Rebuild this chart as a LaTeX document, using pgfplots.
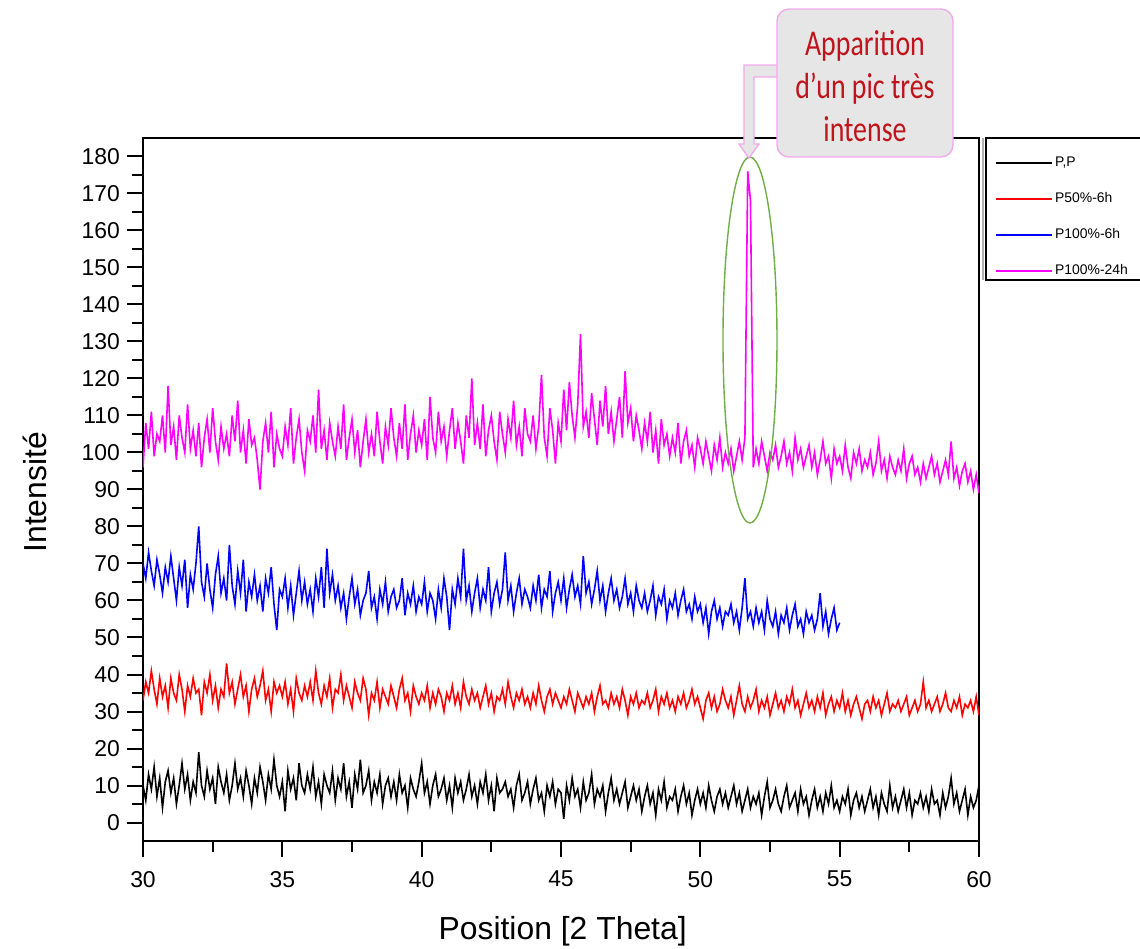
\documentclass[border=0pt]{standalone}
\usepackage{fontspec}
\setmainfont{Liberation Sans}
\newfontfamily\calibri{Carlito}
\usepackage{pgfplots}
\usepackage{pgfplotstable}
\pgfplotsset{compat=1.18}
\definecolor{calloutred}{RGB}{192,20,28}
\definecolor{calloutfill}{RGB}{230,230,230}
\definecolor{calloutpink}{RGB}{240,170,235}
\definecolor{ellgreen}{RGB}{112,173,71}
\definecolor{puremagenta}{RGB}{255,0,255}
\definecolor{purered}{RGB}{255,0,0}
\definecolor{pureblue}{RGB}{0,0,255}

% P,P  (x = 30.0 ... 60.0, step 0.1)
\pgfplotstableread[header=false,row sep=\\]{
10\\6\\13\\9\\15\\7\\12\\4\\11\\14\\
8\\12\\5\\10\\16\\9\\13\\6\\11\\8\\
19\\10\\7\\14\\9\\12\\5\\15\\11\\8\\
13\\6\\10\\16\\9\\12\\7\\14\\10\\5\\
12\\8\\15\\11\\6\\13\\9\\17\\10\\7\\
11\\3\\14\\9\\12\\6\\16\\10\\8\\13\\
9\\15\\7\\11\\5\\13\\10\\8\\14\\6\\
12\\9\\16\\7\\11\\4\\13\\9\\17\\8\\
10\\14\\6\\11\\8\\13\\5\\10\\12\\7\\
11\\6\\13\\8\\10\\4\\12\\9\\7\\11\\
16\\8\\11\\5\\10\\13\\7\\9\\12\\6\\
10\\4\\12\\8\\11\\6\\9\\13\\7\\10\\
5\\11\\8\\13\\6\\10\\3\\12\\8\\9\\
11\\7\\9\\4\\10\\13\\6\\8\\11\\5\\
9\\12\\6\\8\\3\\10\\7\\11\\5\\9\\
8\\1\\10\\6\\12\\7\\9\\4\\11\\6\\
8\\13\\5\\9\\7\\10\\3\\8\\12\\6\\
9\\5\\8\\11\\4\\7\\10\\6\\9\\3\\
7\\10\\5\\8\\2\\9\\6\\11\\4\\7\\
6\\9\\3\\7\\10\\5\\8\\2\\6\\9\\
5\\8\\4\\10\\6\\3\\7\\9\\5\\8\\
4\\7\\10\\5\\8\\3\\6\\9\\4\\7\\
5\\8\\2\\7\\11\\4\\6\\9\\5\\3\\
7\\10\\4\\6\\8\\3\\9\\5\\7\\2\\
6\\9\\4\\7\\3\\8\\5\\10\\4\\6\\
3\\7\\5\\9\\2\\6\\8\\4\\7\\3\\
6\\9\\4\\7\\2\\8\\5\\3\\10\\4\\
7\\3\\6\\9\\4\\8\\2\\6\\5\\8\\
4\\7\\3\\9\\5\\6\\2\\8\\4\\7\\
12\\5\\8\\3\\6\\9\\2\\7\\4\\6\\
10\\
}\tblPP

% P50%-6h
\pgfplotstableread[header=false,row sep=\\]{
33\\38\\35\\41\\36\\32\\39\\34\\37\\31\\
39\\35\\33\\40\\36\\30\\37\\34\\39\\35\\
36\\29\\38\\35\\40\\33\\37\\31\\36\\34\\
43\\35\\38\\32\\36\\40\\34\\37\\30\\36\\
39\\34\\37\\41\\33\\36\\30\\38\\35\\37\\
34\\38\\32\\36\\30\\39\\35\\33\\37\\34\\
38\\33\\41\\35\\32\\37\\34\\39\\31\\36\\
35\\40\\33\\37\\34\\31\\38\\35\\33\\39\\
36\\29\\35\\33\\38\\31\\36\\34\\32\\37\\
34\\31\\36\\39\\33\\35\\30\\37\\34\\32\\
35\\33\\37\\31\\35\\32\\36\\34\\30\\35\\
33\\37\\32\\35\\31\\38\\34\\32\\36\\33\\
35\\31\\34\\37\\32\\35\\30\\34\\33\\36\\
32\\38\\34\\31\\35\\33\\36\\32\\34\\31\\
35\\32\\37\\33\\30\\34\\36\\32\\35\\33\\
31\\34\\32\\36\\33\\30\\35\\33\\31\\34\\
32\\35\\30\\34\\37\\32\\33\\31\\35\\32\\
34\\31\\36\\33\\29\\34\\32\\35\\31\\33\\
32\\35\\31\\33\\36\\30\\34\\32\\35\\31\\
33\\30\\34\\32\\35\\31\\33\\36\\32\\34\\
31\\28\\33\\35\\31\\34\\30\\32\\36\\33\\
31\\34\\29\\33\\37\\32\\30\\34\\31\\33\\
36\\30\\33\\31\\34\\29\\32\\35\\31\\33\\
30\\34\\32\\36\\31\\33\\29\\32\\35\\31\\
33\\30\\34\\31\\35\\29\\32\\34\\30\\33\\
31\\35\\30\\33\\29\\32\\34\\31\\28\\32\\
33\\30\\34\\31\\33\\29\\32\\35\\30\\32\\
31\\33\\30\\32\\34\\29\\31\\33\\30\\32\\
38\\31\\33\\30\\32\\34\\30\\32\\35\\31\\
30\\33\\31\\34\\29\\32\\31\\33\\30\\34\\
29\\
}\tblPfifty

% P100%-6h (x = 30.0 ... 55.0)
\pgfplotstableread[header=false,row sep=\\]{
70\\66\\73\\68\\64\\71\\67\\62\\69\\65\\
72\\66\\60\\69\\64\\71\\58\\67\\63\\70\\
80\\65\\61\\70\\63\\58\\67\\72\\62\\66\\
60\\75\\64\\59\\68\\62\\71\\57\\65\\61\\
67\\60\\64\\57\\66\\62\\69\\59\\52\\63\\
61\\66\\58\\64\\56\\62\\68\\60\\65\\59\\
63\\57\\66\\61\\69\\58\\74\\62\\67\\60\\
64\\58\\62\\55\\61\\66\\59\\63\\56\\60\\
62\\68\\58\\61\\55\\63\\59\\65\\57\\61\\
63\\58\\60\\66\\56\\62\\59\\64\\57\\61\\
59\\65\\57\\62\\60\\55\\63\\58\\66\\61\\
52\\63\\59\\66\\61\\74\\60\\64\\57\\62\\
66\\58\\63\\60\\69\\57\\62\\65\\59\\63\\
73\\60\\64\\57\\62\\66\\59\\63\\61\\58\\
64\\60\\67\\58\\63\\61\\68\\57\\62\\65\\
60\\66\\58\\63\\67\\61\\64\\59\\72\\62\\
65\\59\\63\\68\\60\\64\\57\\62\\66\\60\\
63\\58\\61\\66\\59\\62\\57\\64\\60\\58\\
62\\57\\60\\64\\56\\61\\59\\63\\55\\60\\
58\\62\\56\\60\\63\\57\\59\\55\\61\\57\\
59\\54\\58\\51\\57\\60\\55\\58\\53\\57\\
56\\59\\54\\57\\52\\58\\66\\55\\57\\53\\
58\\54\\57\\52\\60\\55\\53\\57\\51\\56\\
54\\58\\52\\56\\59\\53\\55\\51\\57\\54\\
56\\52\\55\\62\\53\\57\\51\\55\\58\\52\\
54\\
}\tblPcentsix

% P100%-24h
\pgfplotstableread[header=false,row sep=\\]{
96\\108\\101\\111\\99\\105\\103\\110\\100\\118\\
102\\107\\98\\110\\104\\100\\113\\101\\106\\99\\
108\\96\\104\\109\\100\\112\\103\\98\\107\\101\\
105\\99\\110\\103\\114\\100\\106\\97\\109\\102\\
104\\98\\90\\103\\108\\100\\111\\96\\105\\101\\
99\\107\\102\\112\\97\\104\\109\\100\\95\\106\\
103\\110\\100\\117\\101\\106\\98\\108\\103\\99\\
107\\101\\113\\98\\104\\109\\100\\106\\96\\103\\
109\\100\\105\\99\\111\\103\\97\\107\\102\\112\\
104\\99\\108\\101\\113\\98\\105\\110\\100\\106\\
102\\109\\98\\115\\104\\100\\111\\103\\107\\99\\
106\\112\\101\\108\\103\\97\\110\\104\\120\\102\\
108\\101\\113\\99\\106\\110\\103\\98\\111\\105\\
100\\109\\104\\114\\102\\107\\99\\112\\105\\103\\
110\\101\\107\\121\\104\\99\\112\\106\\97\\108\\
103\\117\\106\\119\\110\\104\\113\\132\\107\\111\\
104\\116\\109\\102\\114\\107\\118\\105\\111\\103\\
109\\115\\104\\122\\108\\112\\103\\110\\106\\101\\
108\\103\\111\\100\\106\\97\\109\\102\\105\\99\\
104\\100\\108\\97\\103\\106\\99\\102\\96\\104\\
101\\97\\103\\99\\95\\102\\98\\104\\96\\100\\
97\\101\\95\\99\\103\\98\\104\\176\\168\\96\\
101\\97\\103\\99\\95\\100\\98\\102\\96\\99\\
103\\97\\100\\95\\104\\98\\101\\96\\99\\102\\
96\\100\\94\\98\\103\\97\\99\\93\\101\\97\\
99\\95\\102\\96\\93\\100\\97\\101\\95\\98\\
96\\100\\94\\97\\103\\95\\98\\93\\99\\96\\
94\\98\\95\\101\\93\\97\\99\\94\\96\\92\\
97\\93\\96\\99\\94\\97\\92\\95\\98\\94\\
103\\93\\96\\91\\95\\97\\92\\95\\90\\94\\
89\\
}\tblPcentday

\begin{document}
\begin{tikzpicture}
\begin{axis}[
  scale only axis,
  width=418bp, height=351.5bp,
  xmin=30, xmax=60, ymin=-5, ymax=185,
  xtick={30,35,...,60}, ytick={0,10,...,180},
  minor x tick num=1, minor y tick num=1,
  tick align=outside,
  xtick pos=bottom, ytick pos=left,
  major tick length=8bp, minor tick length=5.5bp,
  axis line style={line width=1bp},
  every tick/.style={line width=1bp, black},
  /pgf/number format/assume math mode=true,
  tick label style={font=\fontsize{11.5}{13}\selectfont},
  xticklabel style={yshift=-3.5bp},
  xlabel={Position [2 Theta]},
  ylabel={Intensité},
  label style={font=\fontsize{16}{18}\selectfont},
  xlabel style={at={(axis description cs:0.502,-0.129)}, anchor=center},
  ylabel style={at={(axis description cs:-0.129,0.496)}, anchor=center, rotate=0},
  legend style={at={(rel axis cs:1.018,0.977)}, anchor=north west, draw=none, fill=none,
    font=\fontsize{7}{8}\selectfont, row sep=9bp, inner sep=0pt,
    nodes={inner sep=1.2bp}},
  legend cell align=left,
  legend image code/.code={\draw[#1,line width=1.1bp] (0bp,0bp) -- (28bp,0bp);},
]
\addplot[black, line width=0.8bp] table[x expr={30+0.1*\coordindex}, y index=0] {\tblPP};
\addlegendentry{P,P}
\addplot[purered, line width=0.8bp] table[x expr={30+0.1*\coordindex}, y index=0] {\tblPfifty};
\addlegendentry{P50\%-6h}
\addplot[pureblue, line width=0.8bp] table[x expr={30+0.1*\coordindex}, y index=0] {\tblPcentsix};
\addlegendentry{P100\%-6h}
\addplot[puremagenta, line width=0.8bp] table[x expr={30+0.1*\coordindex}, y index=0] {\tblPcentday};
\addlegendentry{P100\%-24h}
\end{axis}
\begin{scope}[x=0.5bp, y=-0.5bp, shift={(-143,-841)}]
  % green ellipse around the peak
  \draw[ellgreen, line width=0.7bp] (750,340) ellipse [x radius=13.5bp, y radius=91.5bp];
  % legend frame
  \draw[gray!60, line width=0.8bp] (983,138) -- (983,280);
  \draw[black, line width=0.8bp] (1150,138) -- (986,138) -- (986,280) -- (1150,280);
  % callout arrow
  \filldraw[fill=calloutfill, draw=calloutpink, line width=0.7bp]
    (778,65) -- (744,65) -- (744,144) -- (739,144) -- (749,158) -- (759,144)
    -- (754,144) -- (754,77) -- (778,77);
  % callout box
  \filldraw[fill=calloutfill, draw=calloutpink, line width=0.7bp, rounded corners=6bp]
    (777,9) rectangle (953,157);
  \node[text=calloutred, font=\calibri\fontsize{14}{16.7}\selectfont, align=center,
    yscale=1.3, transform shape] at (865,86) {Apparition\\d’un pic très\\intense};
\end{scope}
\pgfresetboundingbox
\path[use as bounding box] (-71.5bp,-54bp) rectangle (498.5bp,420.5bp);
\end{tikzpicture}
\end{document}
